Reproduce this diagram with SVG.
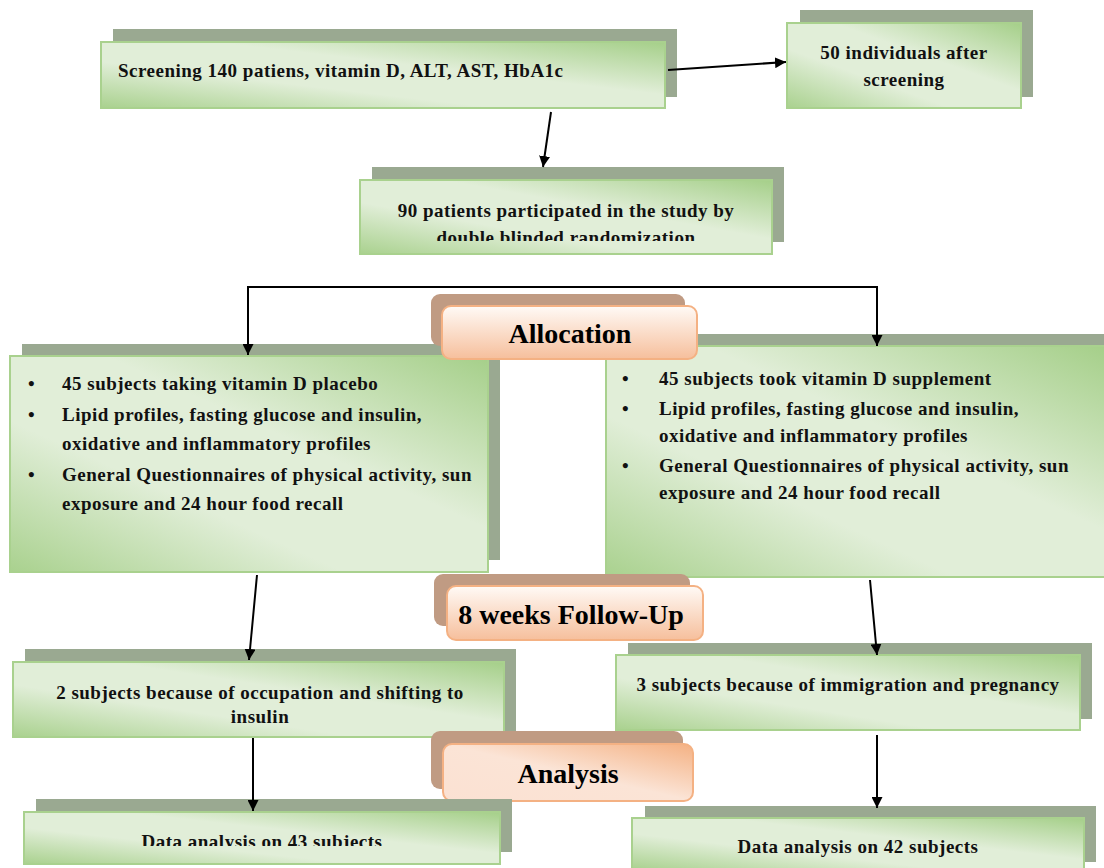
<svg xmlns="http://www.w3.org/2000/svg" width="1104" height="868" viewBox="0 0 1104 868">
<defs>
<linearGradient id="gG" x1="0" y1="1" x2="1" y2="0">
<stop offset="0" stop-color="#a9d18e"/>
<stop offset="0.35" stop-color="#e1eed8"/>
<stop offset="0.6" stop-color="#e1eed8"/>
<stop offset="1" stop-color="#a5cf89"/>
</linearGradient>
<linearGradient id="gO" x1="0" y1="0" x2="0" y2="1">
<stop offset="0" stop-color="#fffaf6"/>
<stop offset="1" stop-color="#f6bf9c"/>
</linearGradient>
<linearGradient id="gO2" x1="0" y1="1" x2="1" y2="0">
<stop offset="0" stop-color="#fbe1d2"/>
<stop offset="0.5" stop-color="#fbe4d6"/>
<stop offset="1" stop-color="#f4b183"/>
</linearGradient>
<marker id="ah" viewBox="0 0 10 10" refX="10" refY="5" markerWidth="11" markerHeight="11" markerUnits="userSpaceOnUse" orient="auto">
<path d="M0,0 L10,5 L0,10 z" fill="#000"/>
</marker>
<clipPath id="c90"><rect x="360" y="180" width="412" height="61"/></clipPath>
<clipPath id="c43"><rect x="24" y="812" width="476" height="34"/></clipPath>
</defs>
<style>
.sh{fill:#9aa991}
.bx{fill:url(#gG);stroke:#a9d18e;stroke-width:2}
.osh{fill:#c09b83}
.ob{stroke:#f4b183;stroke-width:2}
.t{font-family:"Liberation Serif","Times New Roman",serif;font-weight:bold;font-size:19px;letter-spacing:0.5px;fill:#111}
.tc{text-anchor:middle}
.big{font-family:"Liberation Serif","Times New Roman",serif;font-weight:bold;font-size:28px;fill:#000;text-anchor:middle}
.ln{stroke:#000;stroke-width:2;fill:none;marker-end:url(#ah)}
</style>

<g id="screening">
<rect class="sh" x="113" y="29" width="564" height="68"/>
<rect class="bx" x="101" y="42" width="564" height="66"/>
<text class="t" x="118" y="77">Screening 140 patiens, vitamin D, ALT, AST, HbA1c</text>
</g>

<g id="excluded50">
<rect class="sh" x="800" y="10" width="233" height="87"/>
<rect class="bx" x="787" y="23" width="234" height="85"/>
<text class="t tc" x="904" y="59">50 individuals after</text>
<text class="t tc" x="904" y="86">screening</text>
</g>

<g id="participants90">
<rect class="sh" x="372" y="167" width="412" height="75"/>
<rect class="bx" x="360" y="180" width="412" height="74"/>
<g clip-path="url(#c90)">
<text class="t tc" x="566" y="217">90 patients participated in the study by</text>
<text class="t tc" x="566" y="244">double blinded randomization</text>
</g>
</g>

<g id="placebo">
<rect class="sh" x="22" y="344" width="478" height="216"/>
<rect class="bx" x="10" y="356" width="478" height="216"/>
<text class="t" x="28" y="390">•</text>
<text class="t" x="62" y="390">45 subjects taking vitamin D placebo</text>
<text class="t" x="28" y="421">•</text>
<text class="t" x="62" y="421">Lipid profiles, fasting glucose and insulin,</text>
<text class="t" x="62" y="450">oxidative and inflammatory profiles</text>
<text class="t" x="28" y="481">•</text>
<text class="t" x="62" y="481">General Questionnaires of physical activity, sun</text>
<text class="t" x="62" y="510">exposure and 24 hour food recall</text>
</g>

<g id="supplement">
<rect class="sh" x="618" y="334" width="490" height="220"/>
<rect class="bx" x="606" y="346" width="500" height="231"/>
<text class="t" x="622" y="385">•</text>
<text class="t" x="659" y="385">45 subjects took vitamin D supplement</text>
<text class="t" x="622" y="415">•</text>
<text class="t" x="659" y="415">Lipid profiles, fasting glucose and insulin,</text>
<text class="t" x="659" y="442">oxidative and inflammatory profiles</text>
<text class="t" x="622" y="472">•</text>
<text class="t" x="659" y="472">General Questionnaires of physical activity, sun</text>
<text class="t" x="659" y="499">exposure and 24 hour food recall</text>
</g>

<g id="allocation">
<rect class="osh" x="431" y="294" width="254" height="52" rx="9"/>
<rect class="ob" fill="url(#gO)" x="442" y="306" width="255" height="53" rx="9"/>
<text class="big" x="570" y="343">Allocation</text>
</g>

<g id="lost2">
<rect class="sh" x="25" y="649" width="491" height="82"/>
<rect class="bx" x="13" y="662" width="491" height="75"/>
<text class="t tc" x="260" y="699">2 subjects because of occupation and shifting to</text>
<text class="t tc" x="260" y="723">insulin</text>
</g>

<g id="lost3">
<rect class="sh" x="628" y="643" width="464" height="76"/>
<rect class="bx" x="616" y="655" width="464" height="75"/>
<text class="t tc" x="848" y="691">3 subjects because of immigration and pregnancy</text>
</g>

<g id="followup">
<rect class="osh" x="434" y="574" width="256" height="52" rx="9"/>
<rect class="ob" fill="url(#gO)" x="447" y="586" width="256" height="54" rx="9"/>
<text class="big" x="571" y="624">8 weeks Follow-Up</text>
</g>

<g id="analysis">
<rect class="osh" x="431" y="731" width="252" height="58" rx="9"/>
<rect class="ob" fill="url(#gO2)" x="443" y="744" width="250" height="57" rx="9"/>
<text class="big" x="568" y="783">Analysis</text>
</g>

<g id="analysis43">
<rect class="sh" x="36" y="799" width="476" height="53"/>
<rect class="bx" x="24" y="812" width="476" height="52"/>
<g clip-path="url(#c43)">
<text class="t tc" x="262" y="848">Data analysis on 43 subjects</text>
</g>
</g>

<g id="analysis42">
<rect class="sh" x="645" y="806" width="451" height="56"/>
<rect class="bx" x="632" y="818" width="452" height="52"/>
<text class="t tc" x="858" y="853">Data analysis on 42 subjects</text>
</g>

<g id="connectors">
<line class="ln" x1="668" y1="70" x2="786" y2="62"/>
<line class="ln" x1="551" y1="112" x2="543" y2="167"/>
<path class="ln" d="M510,287 H248 V355"/>
<path class="ln" d="M510,287 H877 V346"/>
<line class="ln" x1="257" y1="575" x2="249" y2="660"/>
<line class="ln" x1="870" y1="580" x2="877" y2="655"/>
<line class="ln" x1="253" y1="738" x2="253" y2="811"/>
<line class="ln" x1="877" y1="735" x2="877" y2="808"/>
</g>
</svg>
